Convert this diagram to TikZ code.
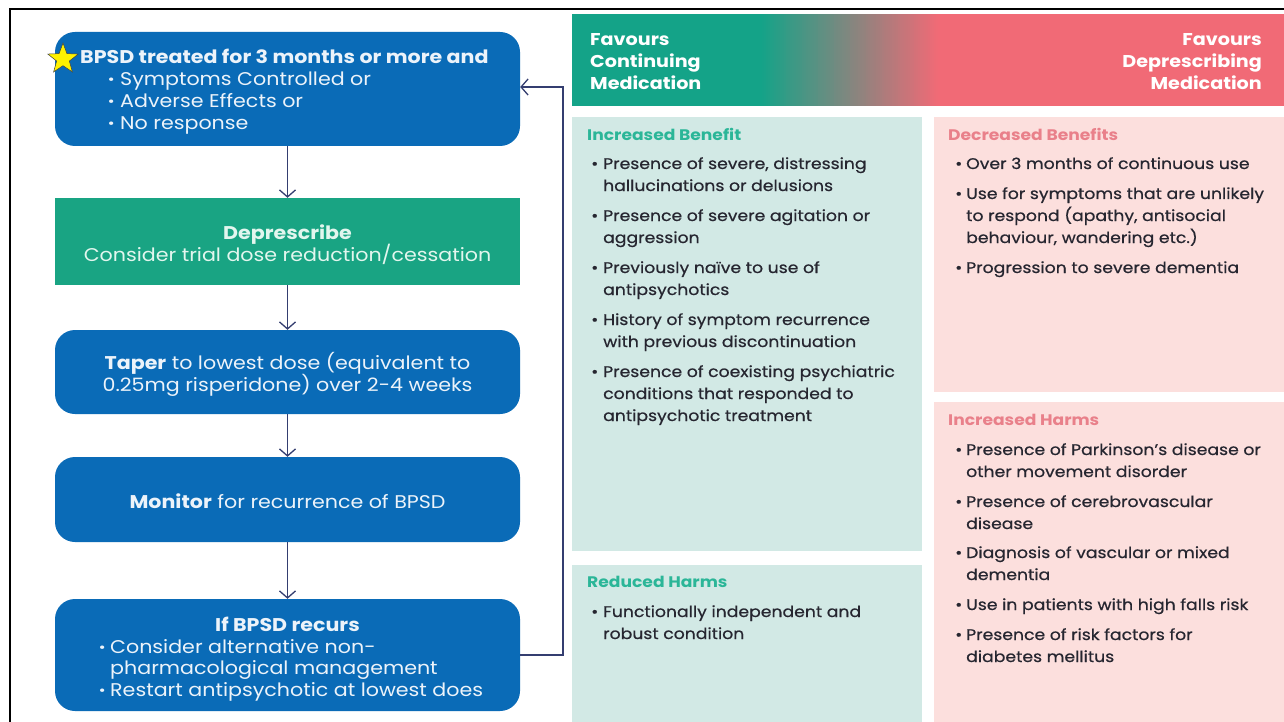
\documentclass[tikz,border=0pt]{standalone}
\usepackage{fontspec}
\setmainfont{Poppins}[FakeStretch=1.12]
\newfontfamily\panelfont{Poppins}[FakeStretch=1.12,FakeBold=0.6]
\usetikzlibrary{arrows.meta,shapes.geometric}

\definecolor{boxblue}{RGB}{10,107,183}
\definecolor{boxgreen}{RGB}{25,164,131}
\definecolor{hdrgreen}{RGB}{20,163,136}
\definecolor{hdrpink}{RGB}{241,106,118}
\definecolor{tealpanel}{RGB}{210,233,229}
\definecolor{pinkpanel}{RGB}{252,223,221}
\definecolor{tealtitle}{RGB}{43,182,152}
\definecolor{pinktitle}{RGB}{233,128,138}
\definecolor{bodyink}{RGB}{38,38,48}
\definecolor{wire}{RGB}{52,62,112}
\definecolor{boxink}{RGB}{236,243,250}
\definecolor{greenink}{RGB}{226,246,238}

\begin{document}
\begin{tikzpicture}[x=1pt,y=-1pt,
  bluebox/.style={draw=none,fill=boxblue,rounded corners=20pt,minimum width=465pt,inner sep=0pt},
  greenbox/.style={draw=none,fill=boxgreen,minimum width=465pt,inner sep=0pt},
  flow/.style={draw=wire,line width=1.3pt,-{Straight Barb[length=7pt,width=16pt,line width=1.3pt]}},
  boxtxt/.style={anchor=base,inner sep=0pt,text=boxink,font=\fontsize{18.4}{22}\selectfont},
  boxtxtl/.style={boxtxt,anchor=base west},
  boxbold/.style={font=\bfseries\fontsize{18.4}{22}\selectfont},
  hdrtxt/.style={inner sep=0pt,text=white,font=\bfseries\fontsize{17.1}{22}\selectfont},
  paneltitle/.style={anchor=base west,inner sep=0pt,font=\bfseries\fontsize{15.3}{18}\selectfont},
  ptxt/.style={anchor=base west,inner sep=0pt,text=bodyink,font=\panelfont\fontsize{15.4}{18}\selectfont}
]
\useasboundingbox (0,0) rectangle (1284,722);
\fill[white] (0,0) rectangle (1284,722);

% outer frame (top and left edges)
\draw[black,line width=2.5pt] (10,722) -- (10,9) -- (1284,9);

% ---------- header bar with green-to-pink blend ----------
\fill[hdrgreen] (572,14) rectangle (761,106);
\foreach \i in {0,...,89}{
  \pgfmathtruncatemacro\pct{round(100*\i/89)}
  \fill[hdrpink!\pct!hdrgreen] (760+2*\i,14) rectangle (762.6+2*\i,106);
}
\fill[hdrpink] (940,14) rectangle (1284,106);
\node[hdrtxt,anchor=base west] (hl1) at (590,46) {Favours};
\node[hdrtxt,anchor=base west] (hl2) at (590,68) {Continuing};
\node[hdrtxt,anchor=base west] (hl3) at (590,90) {Medication};
\node[hdrtxt,anchor=base east] (hr1) at (1262,46) {Favours};
\node[hdrtxt,anchor=base east] (hr2) at (1262,68) {Deprescribing};
\node[hdrtxt,anchor=base east] (hr3) at (1262,90) {Medication};

% ---------- panels ----------
\fill[tealpanel] (572,117) rectangle (922,551);
\fill[tealpanel] (572,565) rectangle (922,722);
\fill[pinkpanel] (934,117) rectangle (1284,392);
\fill[pinkpanel] (934,402) rectangle (1284,722);

% Increased Benefit
\node[paneltitle,text=tealtitle] (ibt) at (587,141) {Increased Benefit};
\node[ptxt] (ib1) at (591,169) {\makebox[12pt][l]{\textbullet}Presence of severe, distressing};
\node[ptxt] (ib2) at (603,191) {hallucinations or delusions};
\node[ptxt] (ib3) at (591,221) {\makebox[12pt][l]{\textbullet}Presence of severe agitation or};
\node[ptxt] (ib4) at (603,243) {aggression};
\node[ptxt] (ib5) at (591,273) {\makebox[12pt][l]{\textbullet}Previously naïve to use of};
\node[ptxt] (ib6) at (603,295) {antipsychotics};
\node[ptxt] (ib7) at (591,325) {\makebox[12pt][l]{\textbullet}History of symptom recurrence};
\node[ptxt] (ib8) at (603,347) {with previous discontinuation};
\node[ptxt] (ib9) at (591,377) {\makebox[12pt][l]{\textbullet}Presence of coexisting psychiatric};
\node[ptxt] (ib10) at (603,399) {conditions that responded to};
\node[ptxt] (ib11) at (603,421) {antipsychotic treatment};

% Reduced Harms
\node[paneltitle,text=tealtitle] (rht) at (587,587) {Reduced Harms};
\node[ptxt] (rh1) at (591,617) {\makebox[12pt][l]{\textbullet}Functionally independent and};
\node[ptxt] (rh2) at (603,639) {robust condition};

% Decreased Benefits
\node[paneltitle,text=pinktitle] (dbt) at (948,141) {Decreased Benefits};
\node[ptxt] (db1) at (955,169) {\makebox[11pt][l]{\textbullet}Over 3 months of continuous use};
\node[ptxt] (db2) at (955,199) {\makebox[11pt][l]{\textbullet}Use for symptoms that are unlikely};
\node[ptxt] (db3) at (966,221) {to respond (apathy, antisocial};
\node[ptxt] (db4) at (966,243) {behaviour, wandering etc.)};
\node[ptxt] (db5) at (955,273) {\makebox[11pt][l]{\textbullet}Progression to severe dementia};

% Increased Harms
\node[paneltitle,text=pinktitle] (iht) at (948,425) {Increased Harms};
\node[ptxt] (ih1) at (955,455) {\makebox[11pt][l]{\textbullet}Presence of Parkinson’s disease or};
\node[ptxt] (ih2) at (966,477) {other movement disorder};
\node[ptxt] (ih3) at (955,507) {\makebox[11pt][l]{\textbullet}Presence of cerebrovascular};
\node[ptxt] (ih4) at (966,529) {disease};
\node[ptxt] (ih5) at (955,558) {\makebox[11pt][l]{\textbullet}Diagnosis of vascular or mixed};
\node[ptxt] (ih6) at (966,580) {dementia};
\node[ptxt] (ih7) at (955,610) {\makebox[11pt][l]{\textbullet}Use in patients with high falls risk};
\node[ptxt] (ih8) at (955,640) {\makebox[11pt][l]{\textbullet}Presence of risk factors for};
\node[ptxt] (ih9) at (966,662) {diabetes mellitus};

% ---------- flow chart ----------
\node[bluebox,minimum height=114pt] (b1) at (287.5,89) {};
\node[greenbox,minimum height=87pt] (b2) at (287.5,241.5) {};
\node[bluebox,minimum height=84pt] (b3) at (287.5,372) {};
\node[bluebox,minimum height=85pt] (b4) at (287.5,499.5) {};
\node[bluebox,minimum height=112pt] (b5) at (287.5,655) {};

\node[star,star points=5,star point ratio=2.4,fill=yellow,draw=black!75,line width=0.5pt,
      minimum size=32pt,inner sep=0pt] (star) at (63,59) {};
\node[boxtxtl,boxbold] (t1a) at (80,64) {BPSD treated for 3 months or more and};
\node[boxtxtl] (t1b) at (108,86) {\makebox[12pt][l]{\textbf{·}}Symptoms Controlled or};
\node[boxtxtl] (t1c) at (108,108) {\makebox[12pt][l]{\textbf{·}}Adverse Effects or};
\node[boxtxtl] (t1d) at (108,130) {\makebox[12pt][l]{\textbf{·}}No response};

\node[boxtxt,boxbold,text=greenink] (t2a) at (287.5,239) {Deprescribe};
\node[boxtxt,text=greenink] (t2b) at (287.5,261) {Consider trial dose reduction/cessation};

\node[boxtxt] (t3a) at (287.5,369) {\textbf{Taper} to lowest dose (equivalent to};
\node[boxtxt] (t3b) at (287.5,391) {0.25mg risperidone) over 2-4 weeks};

\node[boxtxt] (t4a) at (287.5,508) {\textbf{Monitor} for recurrence of BPSD};

\node[boxtxt,boxbold] (t5a) at (287.5,631) {If BPSD recurs};
\node[boxtxtl] (t5b) at (99,653) {\makebox[11pt][l]{\textbf{·}}Consider alternative non-};
\node[boxtxtl] (t5c) at (110,674) {pharmacological management};
\node[boxtxtl] (t5d) at (99,696) {\makebox[11pt][l]{\textbf{·}}Restart antipsychotic at lowest does};

% connectors
\draw[flow] (b1.south) -- (b2.north);
\draw[flow] (b2.south) -- (b3.north);
\draw[flow] (b3.south) -- (b4.north);
\draw[flow] (b4.south) -- (b5.north);
\coordinate (loopTop) at (563,87);
\draw[flow] (b5.east) -| (loopTop) -- (b1.east |- loopTop);
\end{tikzpicture}
\end{document}
